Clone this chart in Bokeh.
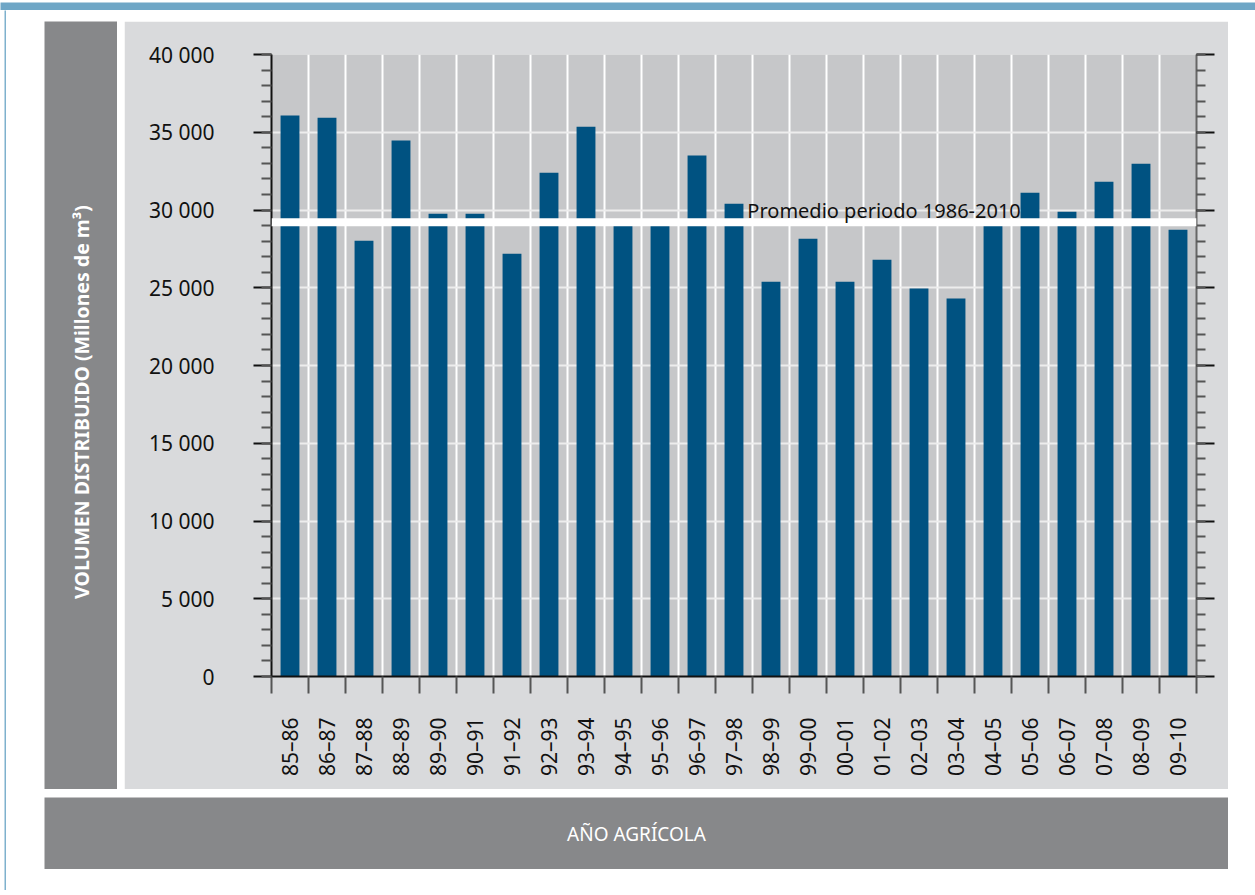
import math
from bokeh.plotting import figure
from bokeh.layouts import row, column
from bokeh.models import (Range1d, LinearAxis, FixedTicker, SingleIntervalTicker,
                          CustomJSTickFormatter, Span, Label, ColumnDataSource)
from bokeh.embed import file_html
from bokeh.resources import INLINE

# ---------------- data ----------------
years = ["85–86", "86–87", "87–88", "88–89", "89–90", "90–91", "91–92", "92–93",
         "93–94", "94–95", "95–96", "96–97", "97–98", "98–99", "99–00", "00–01",
         "01–02", "02–03", "03–04", "04–05", "05–06", "06–07", "07–08", "08–09", "09–10"]
volume = [36080, 35940, 28020, 34470, 29760, 29760, 27190, 32400,
          35360, 29200, 29150, 33500, 30400, 25390, 28150, 25390,
          26800, 24950, 24310, 29250, 31110, 29890, 31820, 32980, 28730]
average = 29220
y_ticks = [0, 5000, 10000, 15000, 20000, 25000, 30000, 35000, 40000]
y_tick_labels = ["0", "5 000", "10 000", "15 000", "20 000", "25 000", "30 000", "35 000", "40 000"]
average_label = "Promedio periodo 1986-2010"
y_title = "VOLUMEN DISTRIBUIDO (Millones de m³)"
x_title = "AÑO AGRÍCOLA"

# ---------------- styling ----------------
N = len(years)
YMAX = y_ticks[-1]
FONT = "Noto Sans"
BAR = "#005281"
PLOT_BG = "#c6c7c9"
PANEL = "#d9dadc"
DARK = "#87888a"
BLUE = "#6ea6c6"
LINEBLUE = "#7fb1cd"


def blank(w, h, color, **kw):
    f = figure(width=w, height=h, x_range=Range1d(0, w), y_range=Range1d(h, 0),
               output_backend="svg", toolbar_location=None,
               x_axis_location=None, y_axis_location=None,
               min_border=0, min_border_left=0, min_border_right=0,
               min_border_top=0, min_border_bottom=0, frame_align=False, **kw)
    f.background_fill_color = color
    f.border_fill_color = color
    f.outline_line_color = None
    f.grid.visible = False
    return f


# top blue band and left blue rule
band = blank(1255, 10, BLUE)
vline = blank(2, 880, LINEBLUE, margin=(0, 0, 0, 4))

# left grey box with the vertical title
left_box = blank(73, 768, DARK)
left_box.add_layout(Label(x=36.5, y=380.5, text=y_title, angle=math.pi / 2,
                          text_align="center", text_baseline="middle", text_color="white",
                          text_font=FONT, text_font_size="19.5px", text_font_style="bold"))

# bottom banner
banner = blank(1184, 72, DARK)
banner.add_layout(Label(x=592, y=36.5, text=x_title,
                        text_align="center", text_baseline="middle", text_color="white",
                        text_font=FONT, text_font_size="19px"))

# ---------------- main chart ----------------
MW, MH = 1104, 768
FL, FR, FT, FB = 147, 1072, 33, 655   # frame edges inside the main figure

p = figure(width=MW, height=MH, x_range=Range1d(0, N), y_range=Range1d(0, YMAX),
           output_backend="svg", toolbar_location=None, frame_align=False,
           min_border_left=FL, min_border_right=MW - FR,
           min_border_top=FT, min_border_bottom=MH - FB)
p.background_fill_color = PLOT_BG
p.border_fill_color = PANEL
p.outline_line_color = None

# grids
p.xgrid.ticker = FixedTicker(ticks=list(range(1, N)))
p.xgrid.grid_line_color = "white"
p.xgrid.grid_line_width = 2
p.ygrid.ticker = SingleIntervalTicker(interval=5000)
p.ygrid.grid_line_color = "#ededed"
p.ygrid.grid_line_width = 2

# bars
src = ColumnDataSource(dict(x=[i + 0.5 for i in range(N)], top=volume))
p.vbar(x="x", top="top", bottom=0, width=0.51, source=src, fill_color=BAR, line_color=None)

# average line and its label
p.add_layout(Span(location=average, dimension="width", line_color="white", line_width=8))
p.add_layout(Label(x=12.86, y=29950, text=average_label, text_font=FONT,
                   text_font_size="20px", text_color="#111111", text_baseline="alphabetic"))

# x axis
xa = p.xaxis[0]
xa.ticker = FixedTicker(ticks=[i + 0.5 for i in range(N)], minor_ticks=list(range(N + 1)))
xa.formatter = CustomJSTickFormatter(args=dict(labels=years),
                                     code="const i = Math.floor(tick); return (i >= 0 && i < labels.length) ? labels[i] : '';")
xa.major_tick_out = 0
xa.major_tick_in = 0
xa.minor_tick_out = 17
xa.minor_tick_in = 0
xa.minor_tick_line_color = "#555555"
xa.minor_tick_line_width = 2
xa.axis_line_color = "#111111"
xa.axis_line_width = 2
xa.major_label_orientation = math.pi / 2
xa.major_label_standoff = 24
xa.major_label_text_font = FONT
xa.major_label_text_font_size = "21px"
xa.major_label_text_color = "#111111"

# left y axis
ya = p.yaxis[0]
ya.ticker = SingleIntervalTicker(interval=5000, num_minor_ticks=5)
ya.major_label_overrides = dict(zip(y_ticks, y_tick_labels))
ya.major_tick_out = 18
ya.major_tick_in = 0
ya.minor_tick_out = 10
ya.minor_tick_in = 0
ya.major_tick_line_color = "#111111"
ya.major_tick_line_width = 2
ya.minor_tick_line_color = "#555555"
ya.minor_tick_line_width = 2
ya.axis_line_color = "#111111"
ya.axis_line_width = 2
ya.major_label_standoff = 39
ya.major_label_text_font = FONT
ya.major_label_text_font_size = "21px"
ya.major_label_text_color = "#111111"

# right y axis (ticks only)
ra = LinearAxis(ticker=SingleIntervalTicker(interval=5000, num_minor_ticks=5),
                major_tick_out=18, major_tick_in=0, minor_tick_out=9, minor_tick_in=0,
                major_tick_line_color="#111111", major_tick_line_width=2,
                minor_tick_line_color="#555555", minor_tick_line_width=2,
                axis_line_color="#666666", axis_line_width=2,
                major_label_text_font_size="0px")
ra.formatter = CustomJSTickFormatter(code="return '';")
p.add_layout(ra, "right")

# ---------------- page layout ----------------
content = column(row(left_box, p, spacing=7), banner, spacing=8, margin=(11, 0, 0, 38))
page = column(band, row(vline, content))

open("out.html", "w").write(file_html(page, INLINE))
